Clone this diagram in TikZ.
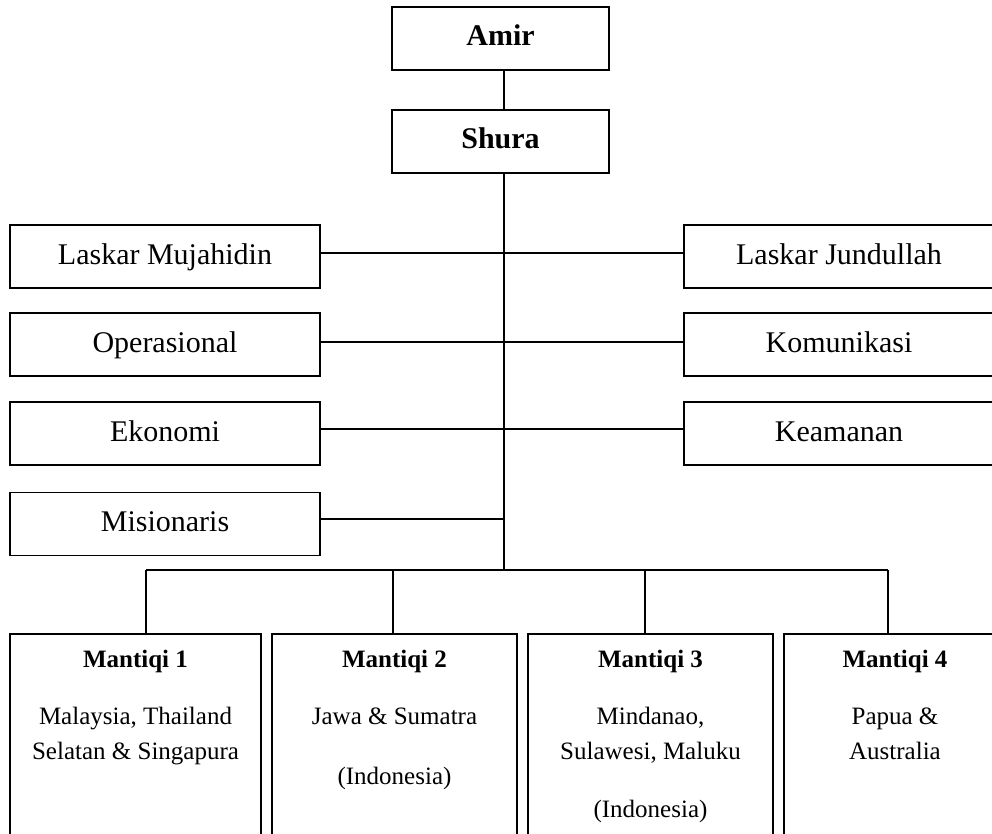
\documentclass[tikz,border=0pt]{standalone}
\usepackage{fontspec}
\setmainfont{Liberation Serif}
\begin{document}
\begin{tikzpicture}[x=1pt,y=-1pt,line width=1.8pt,
  box/.style={draw, rectangle, inner sep=0pt, minimum height=63pt,
    text height=21pt, text depth=6pt, font=\fontsize{30}{36}\selectfont},
  sidebox/.style={box, minimum width=310pt},
  topbox/.style={box, minimum width=217pt, font=\fontsize{30}{36}\selectfont\bfseries},
  mbox/.style={draw, rectangle, inner sep=0pt, minimum height=236pt},
  mtitle/.style={anchor=base, inner sep=0pt, font=\fontsize{25}{30}\selectfont\bfseries},
  mtext/.style={anchor=base, inner sep=0pt, font=\fontsize{25}{30}\selectfont},
  link/.style={draw, line width=2pt}]
\useasboundingbox (0,0) rectangle (992,834);
\clip (0,0) rectangle (992,834);

% top
\node[topbox] (amir) at (500.5,38.5) {Amir};
\node[topbox] (shura) at (500.5,141.5) {Shura};

% side boxes
\node[sidebox] (lm) at (165,256.5) {Laskar Mujahidin};
\node[sidebox] (op) at (165,344.5) {Operasional};
\node[sidebox] (ek) at (165,433.5) {Ekonomi};
\node[sidebox] (mi) at (165,524) {Misionaris};
\node[sidebox] (rj) at (839,256.5) {Laskar Jundullah};
\node[sidebox] (ko) at (839,344.5) {Komunikasi};
\node[sidebox] (ke) at (839,433.5) {Keamanan};

% mantiqi boxes
\node[mbox, minimum width=251pt] (m1) at (135.5,752) {};
\node[mbox, minimum width=245pt] (m2) at (394.5,752) {};
\node[mbox, minimum width=245pt] (m3) at (650.5,752) {};
\node[mbox, minimum width=222pt] (m4) at (895,752) {};

\node[mtitle] (m1a) at (135.5,667) {Mantiqi 1};
\node[mtext]  (m1b) at (135.5,724) {Malaysia, Thailand};
\node[mtext]  (m1c) at (135.5,759) {Selatan \& Singapura};

\node[mtitle] (m2a) at (394.5,667) {Mantiqi 2};
\node[mtext]  (m2b) at (394.5,724) {Jawa \& Sumatra};
\node[mtext]  (m2c) at (394.5,784) {(Indonesia)};

\node[mtitle] (m3a) at (650.5,667) {Mantiqi 3};
\node[mtext]  (m3b) at (650.5,724) {Mindanao,};
\node[mtext]  (m3c) at (650.5,759) {Sulawesi, Maluku};
\node[mtext]  (m3d) at (650.5,817) {(Indonesia)};

\node[mtitle] (m4a) at (895,667) {Mantiqi 4};
\node[mtext]  (m4b) at (895,724) {Papua \&};
\node[mtext]  (m4c) at (895,759) {Australia};

% connectors
\coordinate (spine) at (504,0);
\coordinate (r1) at (504,253);
\coordinate (r2) at (504,342);
\coordinate (r3) at (504,429);
\coordinate (r4) at (504,519);
\coordinate (bar) at (504,570);
\coordinate (d1) at (146,570);
\coordinate (d2) at (393,570);
\coordinate (d3) at (645,570);
\coordinate (d4) at (888,570);

\draw[link] (amir.south -| spine) -- (shura.north -| spine);
\draw[link] (shura.south -| spine) -- (bar);
\draw[link] (lm.east |- r1) -- (rj.west |- r1);
\draw[link] (op.east |- r2) -- (ko.west |- r2);
\draw[link] (ek.east |- r3) -- (ke.west |- r3);
\draw[link] (mi.east |- r4) -- (r4);
\draw[link] (d1) -- (d4);
\draw[link] (d1) -- (m1.north -| d1);
\draw[link] (d2) -- (m2.north -| d2);
\draw[link] (d3) -- (m3.north -| d3);
\draw[link] (d4) -- (m4.north -| d4);
\end{tikzpicture}
\end{document}
